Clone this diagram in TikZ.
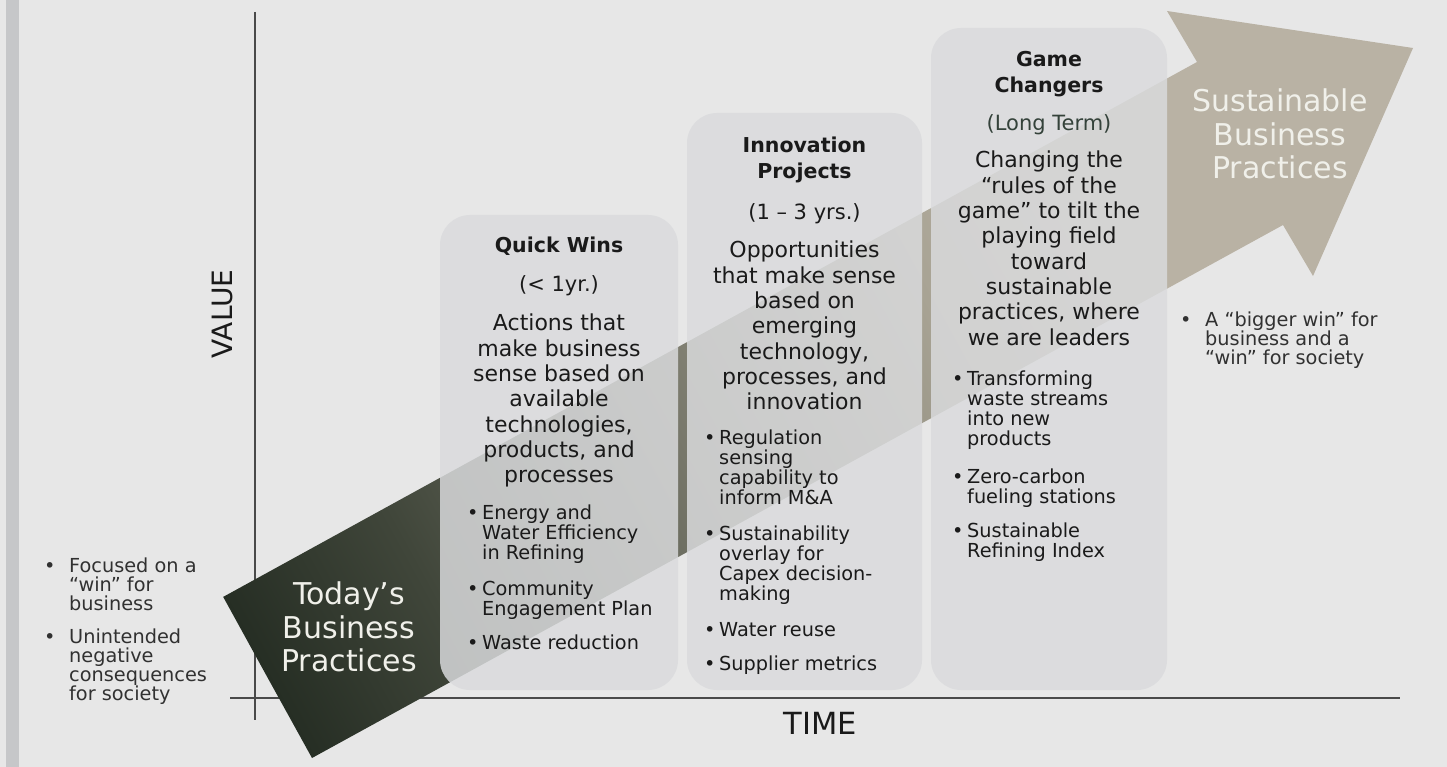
\documentclass[tikz,border=0pt]{standalone}
\usepackage{fontspec}
\setmainfont{DejaVu Sans}
\usetikzlibrary{positioning}

\definecolor{pagebg}{HTML}{E7E7E7}
\definecolor{stripgray}{HTML}{C6C7C9}
\definecolor{axisgray}{HTML}{4A4A4A}
\definecolor{boxgray}{HTML}{DADBDD}
\definecolor{inkdark}{HTML}{1A1A1A}
\definecolor{termgreen}{HTML}{34423A}
\definecolor{labellight}{HTML}{F0F0EA}
\definecolor{arrdark}{HTML}{262E24}
\definecolor{arrmida}{HTML}{40463A}
\definecolor{arrmidb}{HTML}{77776A}
\definecolor{arrmidc}{HTML}{A8A394}
\definecolor{arrlight}{HTML}{B9B2A4}

\pgfdeclarehorizontalshading{arrowfade}{100bp}{color(0bp)=(arrdark); color(25bp)=(arrdark); color(32bp)=(arrmida); color(43bp)=(arrmidb); color(54bp)=(arrmidc); color(61bp)=(arrlight); color(100bp)=(arrlight)}

\newcommand{\bl}{\makebox[15pt][l]{\textbullet}}
\newcommand{\bi}{\hspace*{15pt}}
\newcommand{\sbl}{\makebox[25pt][l]{\textbullet}}
\newcommand{\sbi}{\hspace*{25pt}}

\begin{document}
\begin{tikzpicture}[x=1pt, y=-1pt,
    stagebox/.style={fill=boxgray, fill opacity=0.84, rounded corners=30pt, inner sep=0pt},
    stagetitle/.style={anchor=north, inner sep=0pt, align=center, text=inkdark,
        font=\fontsize{20.5pt}{26pt}\selectfont\bfseries},
    stageterm/.style={anchor=north, inner sep=0pt, align=center, text=inkdark,
        font=\fontsize{21pt}{25pt}\selectfont},
    stagetext/.style={anchor=north, inner sep=0pt, align=center, text=inkdark,
        font=\fontsize{22pt}{25.3pt}\selectfont},
    stageitems/.style={anchor=north west, inner sep=0pt, align=left, text=inkdark,
        font=\fontsize{19.3pt}{20pt}\selectfont},
    sidenote/.style={anchor=north west, inner sep=0pt, align=left, text=inkdark!90,
        font=\fontsize{19.3pt}{19pt}\selectfont},
    bigtitle/.style={anchor=north, inner sep=0pt, align=center, text=labellight,
        font=\fontsize{30pt}{33.5pt}\selectfont},
    axisline/.style={draw=axisgray, line width=1.6pt}]

    % page
    \useasboundingbox (0,0) rectangle (1447,767);
    \fill[pagebg] (0,0) rectangle (1447,767);
    \fill[stripgray] (6,0) rectangle (19,767);

    % axes
    \coordinate (vtop) at (255,12);
    \coordinate (vbot) at (255,720);
    \coordinate (hleft) at (230,698);
    \coordinate (hright) at (1400,698);
    \draw[axisline] (vtop) -- (vbot);
    \draw[axisline] (hleft) -- (hright);
    \node at (222,314) (value) [rotate=90, text=inkdark, font=\fontsize{28pt}{28pt}\selectfont] {VALUE};
    \node at (820,723) (time) [text=inkdark, font=\fontsize{30.5pt}{30pt}\selectfont] {TIME};

    % big arrow
    \begin{scope}
        \clip (223,597) -- (1197,62) -- (1167,11) -- (1413,48) -- (1313,276) -- (1283,225) -- (312,758) -- cycle;
        \shade[shading=arrowfade, transform canvas={rotate around={28.8:(267.5,677.5)}}]
            (267.5,427.5) rectangle (1577.5,927.5);
    \end{scope}
    \node at (349,582) (today) [bigtitle] {Today’s\\Business\\Practices};
    \node at (1280,89) (future) [bigtitle] {Sustainable\\Business\\Practices};

    % stages
    \node at (559,452.5) (quick) [stagebox, minimum width=238pt, minimum height=475pt] {};
    \node at (804.5,401.5) (innov) [stagebox, minimum width=235pt, minimum height=577pt] {};
    \node at (1049,359) (game) [stagebox, minimum width=236pt, minimum height=662pt] {};

    \node at (559,237) (quicktitle) [stagetitle] {Quick Wins};
    \node at (559,275) (quickterm) [stageterm] {(< 1yr.)};
    \node at (559,314) (quicktext) [stagetext] {Actions that\\make business\\sense based on\\available\\technologies,\\products, and\\processes};
    \node at (467,504.5) (quickitems) [stageitems] {\bl Energy and\\\bi Water Efficiency\\\bi in Refining\\[16pt]\bl Community\\\bi Engagement Plan\\[14pt]\bl Waste reduction};

    \node at (804.5,137) (innovtitle) [stagetitle] {Innovation\\Projects};
    \node at (804.5,203) (innovterm) [stageterm] {(1 – 3 yrs.)};
    \node at (804.5,241) (innovtext) [stagetext] {Opportunities\\that make sense\\based on\\emerging\\technology,\\processes, and\\innovation};
    \node at (704,429.5) (innovitems) [stageitems] {\bl Regulation\\\bi sensing\\\bi capability to\\\bi inform M\&A\\[16pt]\bl Sustainability\\\bi overlay for\\\bi Capex decision-\\\bi making\\[16pt]\bl Water reuse\\[14pt]\bl Supplier metrics};

    \node at (1049,51) (gametitle) [stagetitle] {Game\\Changers};
    \node at (1049,114) (gameterm) [stageterm, text=termgreen] {(Long Term)};
    \node at (1049,151) (gametext) [stagetext] {Changing the\\“rules of the\\game” to tilt the\\playing field\\toward\\sustainable\\practices, where\\we are leaders};
    \node at (952,371) (gameitems) [stageitems] {\bl Transforming\\\bi waste streams\\\bi into new\\\bi products\\[18pt]\bl Zero-carbon\\\bi fueling stations\\[14pt]\bl Sustainable\\\bi Refining Index};

    % side notes
    \node at (44,557.5) (nownote) [sidenote] {\sbl Focused on a\\\sbi “win” for\\\sbi business\\[14pt]\sbl Unintended\\\sbi negative\\\sbi consequences\\\sbi for society};
    \node at (1180,312) (laternote) [sidenote] {\sbl A “bigger win” for\\\sbi business and a\\\sbi “win” for society};
\end{tikzpicture}
\end{document}
